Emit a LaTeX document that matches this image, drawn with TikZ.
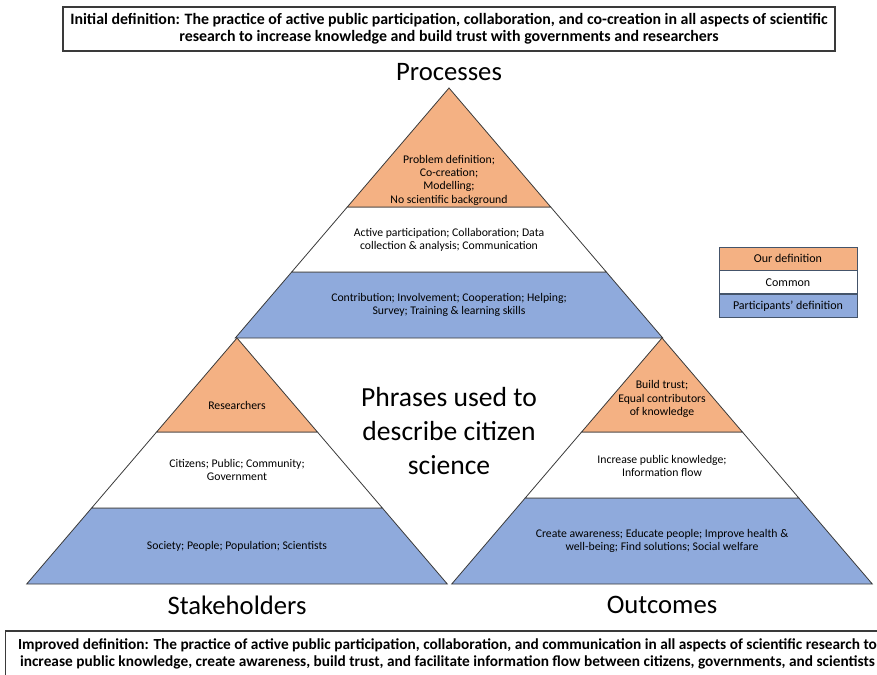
\documentclass[tikz,border=0pt]{standalone}
\usepackage{fontspec}
\setmainfont{Carlito}
\usetikzlibrary{positioning}

\definecolor{ourdef}{HTML}{F4B183}
\definecolor{partdef}{HTML}{8FAADC}
\definecolor{edgegray}{HTML}{3A3A3A}
\definecolor{legendedge}{HTML}{44546A}

\begin{document}
\begin{tikzpicture}[x=0.75pt, y=-0.75pt,
  ourband/.style={fill=ourdef, draw=edgegray, line width=0.6pt},
  commonband/.style={fill=white, draw=edgegray, line width=0.6pt},
  partband/.style={fill=partdef, draw=edgegray, line width=0.6pt},
  bandtext/.style={align=center, inner sep=0pt, font=\fontsize{8.8}{10}\selectfont},
  biglabel/.style={inner sep=0pt, font=\fontsize{20}{25}\selectfont},
  defbox/.style={draw=edgegray, line width=0.8pt, align=center, inner sep=0pt},
  legendrow/.style={draw=legendedge, line width=0.6pt, minimum width=103.5pt, minimum height=17.25pt, inner sep=0pt, font=\fontsize{9}{10}\selectfont}]

  \useasboundingbox (0,0) rectangle (877,674);

  % processes (top)
  \draw[partband] (291.7,272) -- (606.3,272) -- (662.75,338) -- (235.25,338) -- cycle;
  \draw[commonband] (347.3,207) -- (550.7,207) -- (606.3,272) -- (291.7,272) -- cycle;
  \draw[ourband] (449,88) -- (550.7,207) -- (347.3,207) -- cycle;

  % stakeholders (left)
  \draw[partband] (91.65,508) -- (382.35,508) -- (447.3,584) -- (26.7,584) -- cycle;
  \draw[commonband] (156.6,432) -- (317.4,432) -- (382.35,508) -- (91.65,508) -- cycle;
  \draw[ourband] (237,338) -- (317.4,432) -- (156.6,432) -- cycle;

  % outcomes (right)
  \draw[partband] (525.2,498) -- (798.8,498) -- (872.3,584) -- (451.7,584) -- cycle;
  \draw[commonband] (581.6,432) -- (742.4,432) -- (798.8,498) -- (525.2,498) -- cycle;
  \draw[ourband] (662,338) -- (742.4,432) -- (581.6,432) -- cycle;

  \node[bandtext] (procour) at (449,180) {Problem definition;\\Co-creation;\\Modelling;\\No scientific background};
  \node[bandtext] (proccommon) at (449,240) {Active participation; Collaboration; Data\\collection \& analysis; Communication};
  \node[bandtext] (procpart) at (449,305) {Contribution; Involvement; Cooperation; Helping;\\Survey; Training \& learning skills};

  \node[bandtext] (stakeour) at (237,405) {Researchers};
  \node[bandtext] (stakecommon) at (237,470) {Citizens; Public; Community;\\Government};
  \node[bandtext] (stakepart) at (237,546) {Society; People; Population; Scientists};

  \node[bandtext] (outour) at (662,399) {Build trust;\\Equal contributors\\of knowledge};
  \node[bandtext] (outcommon) at (662,466) {Increase public knowledge;\\Information flow};
  \node[bandtext] (outpart) at (662,541) {Create awareness; Educate people; Improve health \&\\well-being; Find solutions; Social welfare};

  \node[biglabel, align=center, font=\fontsize{20.7}{25.5}\selectfont] (phrases) at (449,431) {Phrases used to\\describe citizen\\science};
  \node[biglabel] (processes) at (449,72) {Processes};
  \node[biglabel] (stakeholders) at (237,605) {Stakeholders};
  \node[biglabel] (outcomes) at (662,605) {Outcomes};

  % legend
  \node[legendrow, fill=ourdef] (legour) at (788,258.5) {Our definition};
  \node[legendrow, fill=white, below=0pt of legour] (legcommon) {Common};
  \node[legendrow, fill=partdef, below=0pt of legcommon] (legpart) {Participants’ definition};

  % definitions
  \node[defbox, minimum width=579pt, minimum height=33pt, font=\bfseries\fontsize{11.9}{12.75}\selectfont] (initdef) at (449,29)
    {Initial definition: The practice of active public participation, collaboration, and co-creation in all aspects of scientific\\research to increase knowledge and build trust with governments and researchers};
  \node[defbox, minimum width=663pt, minimum height=34.5pt, font=\bfseries\fontsize{11.5}{12.75}\selectfont] (impdef) at (447.5,654)
    {Improved definition: The practice of active public participation, collaboration, and communication in all aspects of scientific research to\\increase public knowledge, create awareness, build trust, and facilitate information flow between citizens, governments, and scientists};
\end{tikzpicture}
\end{document}
